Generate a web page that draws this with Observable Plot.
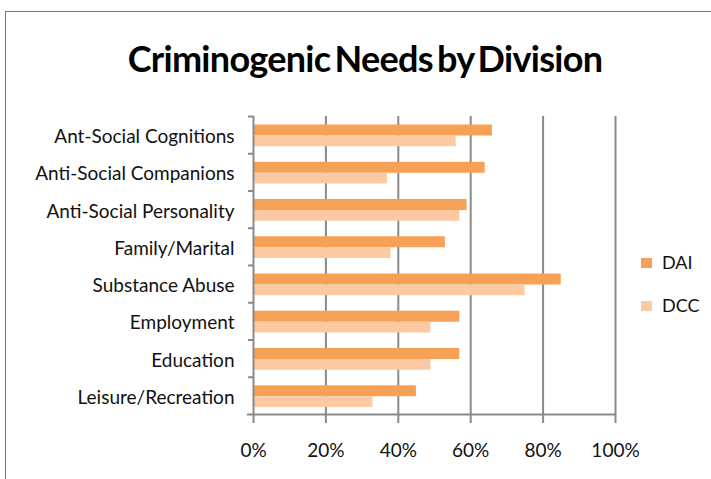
<!DOCTYPE html>
<html>
<head>
<meta charset="utf-8">
<script src="https://cdn.jsdelivr.net/npm/d3@7"></script>
<script src="https://cdn.jsdelivr.net/npm/@observablehq/plot@0.6"></script>
<style>
  html, body { margin: 0; padding: 0; background: #fff; }
  #wrap { position: relative; width: 711px; height: 479px; overflow: hidden; font-family: Lato, "Open Sans", sans-serif; }
  #frame { position: absolute; left: 5px; top: 11px; width: 800px; height: 600px; border-left: 1px solid #7a7a7a; border-top: 1px solid #7a7a7a; }
  #title { position: absolute; left: 0; width: 730px; top: 36px; text-align: center; font-size: 36px; font-weight: 700; color: #000; letter-spacing: -0.7px; word-spacing: -4px; }
  #chart { position: absolute; left: 0; top: 0; }
  .leg { position: absolute; font-size: 18px; color: #111; }
  .sw { position: absolute; width: 11px; height: 10px; }
</style>
</head>
<body>
<div id="wrap">
  <div id="frame"></div>
  <div id="chart"></div>
  <div id="title">Criminogenic Needs by Division</div>
  <div id="legend"></div>
</div>
<script>
const titleText = "Criminogenic Needs by Division";
const categories = [
  "Ant-Social Cognitions",
  "Anti-Social Companions",
  "Anti-Social Personality",
  "Family/Marital",
  "Substance Abuse",
  "Employment",
  "Education",
  "Leisure/Recreation"
];
const series = ["DAI", "DCC"];
const daiValues = [66, 64, 59, 53, 85, 57, 57, 45];
const dccValues = [56, 37, 57, 38, 75, 49, 49, 33];
const xTicks = [0, 20, 40, 60, 80, 100];
const colors = ["#F7A157", "#FBCAA3"];

const daiRows = categories.map((c, i) => ({category: c, series: series[0], value: daiValues[i]}));
const dccRows = categories.map((c, i) => ({category: c, series: series[1], value: dccValues[i]}));

const W = 711, H = 479;
const mTop = 116, mBottom = 65, mLeft = 253, mRight = 96;
const bw = (H - mTop - mBottom) / categories.length;
const grid = "#8a8a8a";

const plot = Plot.plot({
  width: W,
  height: H,
  marginTop: mTop,
  marginBottom: mBottom,
  marginLeft: mLeft,
  marginRight: mRight,
  style: {fontFamily: "Lato, 'Open Sans', sans-serif", fontSize: "18px", color: "#111", background: "transparent"},
  x: {domain: [0, 100]},
  y: {domain: categories, padding: 0, round: false},
  marks: [
    Plot.ruleX(xTicks.slice(1), {stroke: grid, strokeWidth: 2}),
    Plot.barX(daiRows, {y: "category", x: "value", fill: colors[0], insetTop: 8.5, insetBottom: bw - 19.5}),
    Plot.barX(dccRows, {y: "category", x: "value", fill: colors[1], insetTop: 19.5, insetBottom: bw - 30.2}),
    Plot.ruleX([0], {stroke: grid, strokeWidth: 2}),
    Plot.ruleY(categories, {y: d => d, x1: 0, x2: 0, insetLeft: -5, dy: -bw / 2, stroke: grid, strokeWidth: 2}),
    Plot.ruleY(categories.slice(-1), {y: d => d, x1: 0, x2: 100, insetLeft: -6, dy: bw / 2, stroke: grid, strokeWidth: 2}),
    Plot.axisX({ticks: xTicks, tickFormat: d => d + "%", tickSize: 9, tickPadding: 20, stroke: grid, strokeWidth: 2, fontSize: 19, label: null, fill: "#111"}),
    Plot.axisY({tickSize: 0, tickPadding: 19, fontSize: 19, label: null, dy: 2, fill: "#111"})
  ]
});
document.getElementById("chart").appendChild(plot);

const legend = document.getElementById("legend");
const legTop = [258, 301];
series.forEach((s, i) => {
  const sw = document.createElement("div");
  sw.className = "sw";
  sw.style.left = "641px";
  sw.style.top = legTop[i] + "px";
  sw.style.background = colors[i];
  legend.appendChild(sw);
  const t = document.createElement("div");
  t.className = "leg";
  t.style.left = "662px";
  t.style.top = (legTop[i] - 7) + "px";
  t.textContent = s;
  legend.appendChild(t);
});
</script>
</body>
</html>
